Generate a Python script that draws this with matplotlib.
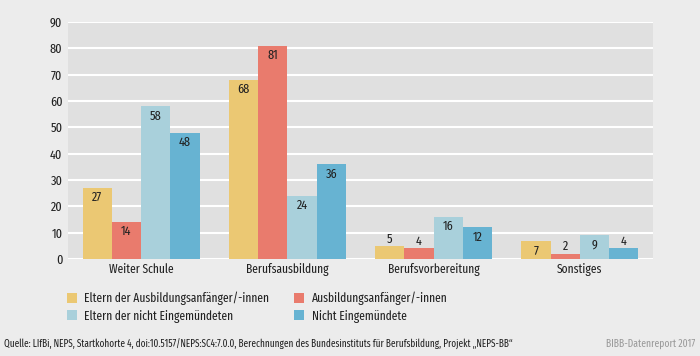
import matplotlib.pyplot as plt
import numpy as np

categories = ["Weiter Schule", "Berufsausbildung", "Berufsvorbereitung", "Sonstiges"]
series_names = ["Eltern der Ausbildungsanfänger/-innen", "Ausbildungsanfänger/-innen",
                "Eltern der nicht Eingemündeten", "Nicht Eingemündete"]
eltern_anf = [27, 68, 5, 7]
anfaenger = [14, 81, 4, 2]
eltern_nicht = [58, 24, 16, 9]
nicht_eing = [48, 36, 12, 4]
yticks = [0, 10, 20, 30, 40, 50, 60, 70, 80, 90]

colors = ["#EBC873", "#E97B6D", "#A9D0DB", "#67B3D2"]
bg = "#ECECEC"
txt = "#222222"

plt.rcParams["font.family"] = ["Fira Sans Extra Condensed", "Fira Sans Condensed", "Barlow Condensed", "DejaVu Sans"]

fig = plt.figure(figsize=(7, 3.56), dpi=100, facecolor=bg)
ax = fig.add_axes([68/700, 1-259/356, 585/700, 237/356])
ax.set_facecolor("#E0E0E0")

x = np.arange(len(categories))
w = 0.2
data = [eltern_anf, anfaenger, eltern_nicht, nicht_eing]
handles = []
for i, vals in enumerate(data):
    pos = x + (i - 1.5) * w
    bars = ax.bar(pos, vals, width=w, color=colors[i], label=series_names[i], zorder=3)
    handles.append(bars)
    for p, v in zip(pos, vals):
        # small values sit above the bar, the rest inside near the top
        off = -7 if v >= 7 else 5
        ax.annotate(str(v), (p, v), xytext=(0, off), textcoords="offset points",
                    ha="center", va="center", fontsize=9.5, color=txt, zorder=4)

ax.set_xlim(-0.5, 3.5)
ax.set_ylim(0, 90)
ax.set_yticks(yticks)
ax.set_xticks(x)
ax.set_xticklabels(categories)
ax.yaxis.grid(True, color="white", linewidth=1.5, zorder=1)
ax.set_axisbelow(True)
for s in ax.spines.values():
    s.set_visible(False)
ax.tick_params(length=0, labelsize=9.5, colors=txt)
ax.tick_params(axis="x", labelsize=9, pad=3)
ax.tick_params(axis="y", pad=4)

order = [0, 2, 1, 3]
leg = ax.legend([handles[k] for k in order], [series_names[k] for k in order],
                loc="upper left", bbox_to_anchor=(-0.002, -0.138), ncol=2, frameon=False,
                fontsize=9, handlelength=0.8, handleheight=0.8, handletextpad=0.6,
                columnspacing=2.0, labelspacing=0.35, borderpad=0, borderaxespad=0)
for t in leg.get_texts():
    t.set_color(txt)

fig.text(4/700, 1-344/356, "Quelle: LIfBi, NEPS, Startkohorte 4, doi:10.5157/NEPS:SC4:7.0.0, Berechnungen des Bundesinstituts für Berufsbildung, Projekt „NEPS-BB“",
         fontsize=7.2, va="center", ha="left", color=txt)
fig.text(695/700, 1-344/356, "BIBB-Datenreport 2017", fontsize=7.5, va="center", ha="right", color="#9A9A9A")

fig.savefig("out.png", dpi=100, facecolor=bg)
